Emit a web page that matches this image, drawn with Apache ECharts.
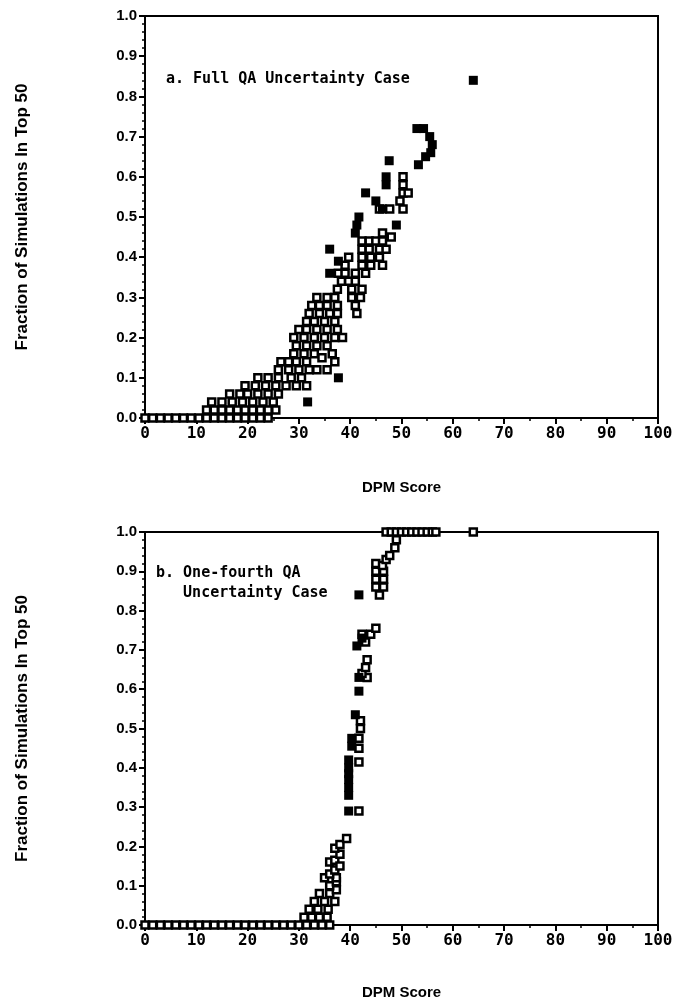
<!DOCTYPE html>
<html>
<head>
<meta charset="utf-8">
<script src="https://cdn.jsdelivr.net/npm/echarts@6.0.0/dist/echarts.min.js"></script>
<style>
  html, body { margin: 0; padding: 0; background: #fff; }
  #chart { width: 681px; height: 1006px; }
</style>
</head>
<body>
<div id="chart"></div>
<script>
// panel a: Full QA uncertainty case, [DPM score, fraction in top 50]
const topOpen = [
  [0, 0], [1.5, 0], [3, 0], [4.5, 0], [6, 0], [7.5, 0], [9, 0], [10.5, 0], [12, 0], [13.5, 0],
  [15, 0], [16.5, 0], [18, 0], [19.5, 0], [21, 0], [22.5, 0], [24, 0],
  [12, 0.02], [13.5, 0.02], [15, 0.02], [16.5, 0.02], [18, 0.02], [19.5, 0.02], [21, 0.02],
  [22.5, 0.02], [24, 0.02], [25.5, 0.02],
  [13, 0.04], [15, 0.04], [17, 0.04], [19, 0.04], [21, 0.04], [23, 0.04], [25, 0.04],
  [16.5, 0.06], [18.5, 0.06], [20, 0.06], [22, 0.06], [24, 0.06], [26, 0.06],
  [19.5, 0.08], [21.5, 0.08], [23.5, 0.08], [25.5, 0.08], [27.5, 0.08], [29.5, 0.08], [31.5, 0.08],
  [22, 0.1], [24, 0.1], [26, 0.1], [28.5, 0.1], [30.5, 0.1],
  [26, 0.12], [28, 0.12], [30, 0.12], [32, 0.12], [33.5, 0.12], [35.5, 0.12],
  [26.5, 0.14], [28, 0.14], [29.5, 0.14], [31.5, 0.14], [37, 0.14],
  [29, 0.16], [31, 0.16], [33, 0.16], [34.5, 0.15], [36.5, 0.16],
  [29.5, 0.18], [31.5, 0.18], [33.5, 0.18], [35.5, 0.18],
  [29, 0.2], [31, 0.2], [33, 0.2], [35, 0.2], [37, 0.2], [38.5, 0.2],
  [30, 0.22], [31.5, 0.22], [33.5, 0.22], [35.5, 0.22], [37.5, 0.22],
  [31.5, 0.24], [33, 0.24], [35, 0.24], [37, 0.24],
  [32, 0.26], [34, 0.26], [36, 0.26], [37.5, 0.26], [41.3, 0.26],
  [32.5, 0.28], [34, 0.28], [35.5, 0.28], [37.5, 0.28], [41, 0.28],
  [33.5, 0.3], [35.5, 0.3], [37, 0.3], [40.3, 0.3], [42, 0.3],
  [37.5, 0.32], [40.3, 0.32], [42.3, 0.32],
  [38.3, 0.34], [39.7, 0.34], [41, 0.34],
  [37.7, 0.36], [39, 0.36], [41, 0.36], [43, 0.36],
  [39, 0.38], [42.3, 0.38], [44, 0.38], [46.3, 0.38],
  [39.7, 0.4], [42.3, 0.4], [44, 0.4], [45.7, 0.4],
  [42.3, 0.42], [43.7, 0.42], [45.7, 0.42], [47, 0.42],
  [42.3, 0.44], [43.7, 0.44], [45, 0.44], [46.3, 0.44], [48, 0.45],
  [46.3, 0.46],
  [45.7, 0.52], [47.7, 0.52], [50.3, 0.52],
  [49.7, 0.54],
  [50.3, 0.56], [51.3, 0.56],
  [50.3, 0.58], [50.3, 0.6]
];
const topFilled = [
  [31.7, 0.04], [37.7, 0.1], [36, 0.36], [36, 0.42], [37.7, 0.39], [41, 0.46], [41.3, 0.48],
  [41.7, 0.5], [49, 0.48], [43, 0.56], [45, 0.54], [46.3, 0.52], [47, 0.58], [47, 0.6],
  [47.6, 0.64], [53, 0.72], [54.3, 0.72], [55.5, 0.7], [56, 0.68], [55.7, 0.66], [54.7, 0.65],
  [53.3, 0.63], [64, 0.84]
];

// panel b: one-fourth QA uncertainty case
const bottomOpen = [
  [0, 0], [1.5, 0], [3, 0], [4.5, 0], [6, 0], [7.5, 0], [9, 0], [10.5, 0], [12, 0], [13.5, 0],
  [15, 0], [16.5, 0], [18, 0], [19.5, 0], [21, 0], [22.5, 0], [24, 0], [25.5, 0], [27, 0],
  [28.5, 0], [30, 0], [31.5, 0], [33, 0], [34.5, 0], [36, 0],
  [31, 0.02], [32.5, 0.02], [34, 0.02], [35.5, 0.02],
  [32, 0.04], [33.7, 0.04], [35.7, 0.04],
  [33, 0.06], [35, 0.06], [37, 0.06],
  [34, 0.08], [36, 0.08], [37.3, 0.09],
  [36, 0.1], [37.3, 0.11],
  [35, 0.12], [37.3, 0.12],
  [36, 0.13], [37, 0.14],
  [36, 0.16], [37, 0.165], [38, 0.15],
  [38, 0.18], [37, 0.195], [38, 0.205],
  [39.3, 0.22],
  [41.7, 0.29],
  [41.7, 0.415], [41.7, 0.45], [41.7, 0.475],
  [42, 0.5], [42, 0.52],
  [43.3, 0.63], [42.3, 0.64], [43, 0.655], [43.3, 0.675],
  [43, 0.72], [42.3, 0.74], [44, 0.74], [45, 0.755],
  [45.7, 0.84],
  [45, 0.86], [46.5, 0.86], [45, 0.88], [46.5, 0.88], [45, 0.9], [46.5, 0.9], [45, 0.92],
  [46.3, 0.915], [47, 0.93],
  [47.7, 0.94], [48.7, 0.96], [49, 0.98],
  [47, 1], [48, 1], [49, 1], [50, 1], [51, 1], [52, 1], [53, 1], [54, 1], [55, 1], [56, 1],
  [56.7, 1], [64, 1]
];
const bottomFilled = [
  [39.7, 0.29], [39.7, 0.33], [39.7, 0.35], [39.7, 0.37], [39.7, 0.385], [39.7, 0.4],
  [39.7, 0.42], [40.3, 0.455], [40.3, 0.475], [41, 0.535], [41.7, 0.595], [41.7, 0.63],
  [41.3, 0.71], [42.3, 0.73], [41.7, 0.84]
];

const yName = 'Fraction of Simulations In Top 50';
const xName = 'DPM Score';

const SANS = "'Liberation Sans', Arial, sans-serif";
const MONO = "'DejaVu Sans Mono', monospace";

function xAxisOpt(gridIndex, gap) {
  return {
    gridIndex, type: 'value', min: 0, max: 100, interval: 10,
    name: xName, nameLocation: 'middle', nameGap: gap,
    nameTextStyle: { fontFamily: SANS, fontWeight: 'bold', fontSize: 15, color: '#000' },
    axisLine: { show: true, lineStyle: { color: '#000', width: 2 } },
    axisTick: { show: true, length: 6, lineStyle: { color: '#000', width: 2 } },
    minorTick: { show: true, splitNumber: 2, length: 3, lineStyle: { color: '#000', width: 1.5 } },
    axisLabel: { fontFamily: MONO, fontWeight: 'bold', fontSize: 16, color: '#000', margin: 8 },
    splitLine: { show: false }
  };
}
function yAxisOpt(gridIndex) {
  return {
    gridIndex, type: 'value', min: 0, max: 1, interval: 0.1,
    name: yName, nameLocation: 'middle', nameGap: 114, nameRotate: 90,
    nameTextStyle: { fontFamily: SANS, fontWeight: 'bold', fontSize: 17, color: '#000' },
    axisLine: { show: true, lineStyle: { color: '#000', width: 2 } },
    axisTick: { show: true, length: 6, lineStyle: { color: '#000', width: 2 } },
    minorTick: { show: true, splitNumber: 5, length: 3, lineStyle: { color: '#000', width: 1.5 } },
    axisLabel: { fontFamily: SANS, fontWeight: 'bold', fontSize: 15, color: '#000', margin: 8,
      formatter: v => v.toFixed(1) },
    splitLine: { show: false }
  };
}
function openSeries(data, idx) {
  return {
    type: 'scatter', data, xAxisIndex: idx, yAxisIndex: idx,
    symbol: 'rect', symbolSize: 7, silent: true,
    itemStyle: { color: '#fff', borderColor: '#000', borderWidth: 2.5, opacity: 1 }
  };
}
function filledSeries(data, idx) {
  return {
    type: 'scatter', data, xAxisIndex: idx, yAxisIndex: idx,
    symbol: 'rect', symbolSize: 9, silent: true,
    itemStyle: { color: '#000', opacity: 1 }
  };
}

const chart = echarts.init(document.getElementById('chart'));
chart.setOption({
  animation: false,
  backgroundColor: '#fff',
  grid: [
    { left: 145, right: 23, top: 16, height: 402, show: true, borderColor: '#000', borderWidth: 2 },
    { left: 145, right: 23, top: 532, height: 393, show: true, borderColor: '#000', borderWidth: 2 }
  ],
  xAxis: [xAxisOpt(0, 62), xAxisOpt(1, 60)],
  yAxis: [yAxisOpt(0), yAxisOpt(1)],
  graphic: [
    { type: 'text', left: 166, top: 72,
      style: { text: 'a. Full QA Uncertainty Case', font: `bold 15px ${MONO}`, fill: '#000' } },
    { type: 'text', left: 156, top: 563,
      style: { text: 'b. One-fourth QA\n   Uncertainty Case', font: `bold 15px ${MONO}`, fill: '#000', lineHeight: 20 } }
  ],
  series: [
    openSeries(topOpen, 0), filledSeries(topFilled, 0),
    openSeries(bottomOpen, 1), filledSeries(bottomFilled, 1)
  ]
});
</script>
</body>
</html>
